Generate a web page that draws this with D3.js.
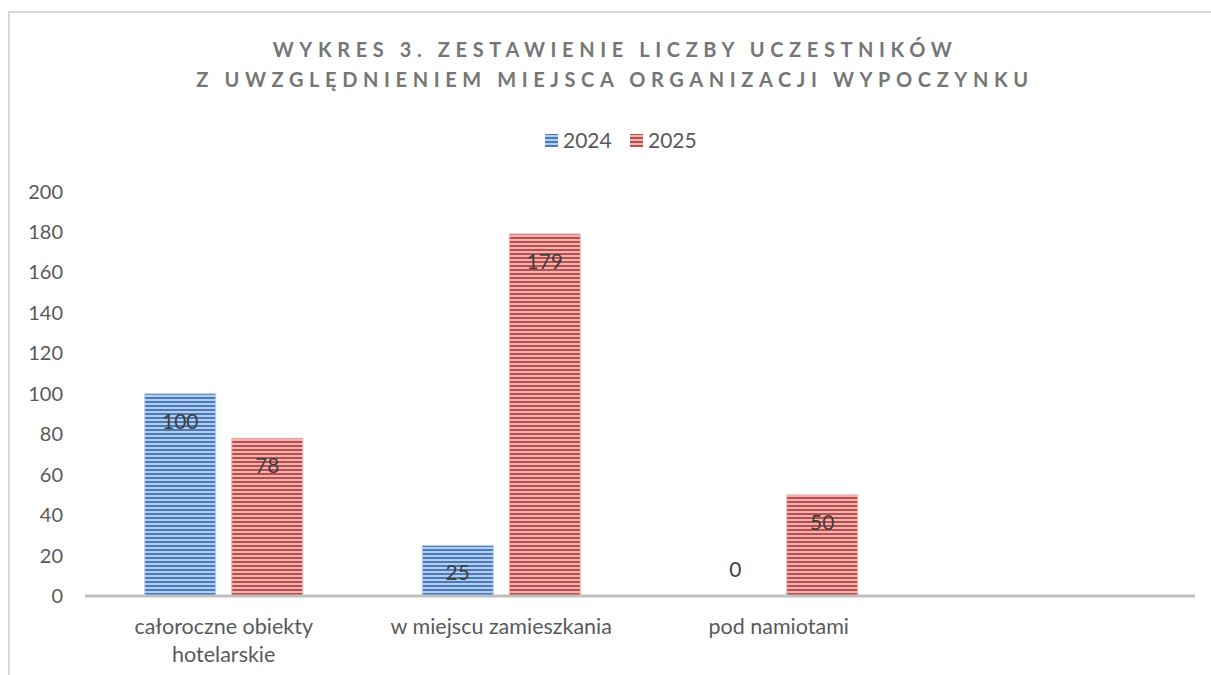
<!DOCTYPE html>
<html>
<head>
  <meta charset="utf-8">
  <script src="https://cdn.jsdelivr.net/npm/d3@7"></script>
  <style>
    body { margin: 0; background: #fff; }
    text { font-family: Lato, "Open Sans", sans-serif; }
  </style>
</head>
<body>
<script>
  // chart data
  var titleLines = ["WYKRES 3. ZESTAWIENIE LICZBY UCZESTNIKÓW", "Z UWZGLĘDNIENIEM MIEJSCA ORGANIZACJI WYPOCZYNKU"];
  var categories = ["całoroczne obiekty|hotelarskie", "w miejscu zamieszkania", "pod namiotami", ""];
  var seriesNames = ["2024", "2025"];
  var values2024 = [100, 25, 0, null];
  var values2025 = [78, 179, 50, null];
  var yTicks = [0, 20, 40, 60, 80, 100, 120, 140, 160, 180, 200];

  var width = 1211, height = 675;
  var colors = { "2024": ["#467bc0", "#b8cdea"], "2025": ["#c44a49", "#ecb8b7"] };

  var svg = d3.select("body").append("svg")
    .attr("width", width).attr("height", height);

  // striped patterns
  var defs = svg.append("defs");
  seriesNames.forEach(function (s) {
    var p = defs.append("pattern")
      .attr("id", "pat" + s)
      .attr("patternUnits", "userSpaceOnUse")
      .attr("width", 8).attr("height", 4);
    p.append("rect").attr("width", 8).attr("height", 4).attr("fill", colors[s][1]);
    p.append("rect").attr("y", 1).attr("width", 8).attr("height", 2).attr("fill", colors[s][0]);
  });

  // chart frame
  svg.append("path")
    .attr("d", "M9,680 V12 H1215")
    .attr("fill", "none").attr("stroke", "#d9d9d9").attr("stroke-width", 2);

  // title
  svg.selectAll(".title").data(titleLines).enter().append("text")
    .attr("class", "title")
    .attr("x", 615).attr("y", function (d, i) { return 57 + i * 30; })
    .attr("text-anchor", "middle")
    .style("font-size", "20px").style("font-weight", "bold")
    .style("letter-spacing", "5.6px")
    .attr("fill", "#767676")
    .text(function (d) { return d; });

  // legend
  var legend = svg.append("g").attr("transform", "translate(545,140)");
  var lg = legend.selectAll("g").data(seriesNames).enter().append("g")
    .attr("transform", function (d, i) { return "translate(" + i * 85 + ",0)"; });
  lg.append("rect").attr("x", 0).attr("y", -6).attr("width", 13).attr("height", 13)
    .attr("fill", function (d) { return "url(#pat" + d + ")"; });
  lg.append("text").attr("x", 18).attr("y", 8)
    .style("font-size", "21px").attr("fill", "#595959")
    .text(function (d) { return d; });

  // scales
  var x = d3.scaleBand().domain(d3.range(categories.length)).range([85, 1195]);
  var y = d3.scaleLinear().domain([0, 200]).range([596, 191.5]);
  var barW = 71, gap = 16;

  // y axis labels
  svg.selectAll(".ylab").data(yTicks).enter().append("text")
    .attr("x", 63).attr("y", function (d) { return y(d) + 7; })
    .attr("text-anchor", "end")
    .style("font-size", "20px").attr("fill", "#595959")
    .text(function (d) { return d; });

  // bars
  var series = [values2024, values2025];
  series.forEach(function (vals, si) {
    var s = seriesNames[si];
    var g = svg.append("g");
    vals.forEach(function (v, ci) {
      if (v === null) return;
      var cx = x(ci) + x.bandwidth() / 2;
      var bx = si === 0 ? cx - gap / 2 - barW : cx + gap / 2;
      if (v > 0) {
        g.append("rect")
          .attr("x", bx).attr("y", y(v))
          .attr("width", barW).attr("height", y(0) - y(v))
          .attr("fill", "url(#pat" + s + ")")
          .attr("stroke", colors[s][1]).attr("stroke-width", 1);
      }
      g.append("text")
        .attr("x", bx + barW / 2)
        .attr("y", v > 0 ? y(v) + 35 : y(0) - 19)
        .attr("text-anchor", "middle")
        .style("font-size", "21px").attr("fill", "#404040")
        .text(v);
    });
  });

  // x axis line
  svg.append("line")
    .attr("x1", 85).attr("x2", 1195).attr("y1", y(0)).attr("y2", y(0))
    .attr("stroke", "#bfbfbf").attr("stroke-width", 3);

  // category labels
  categories.forEach(function (c, i) {
    var lines = c.split("|");
    lines.forEach(function (l, li) {
      svg.append("text")
        .attr("x", x(i) + x.bandwidth() / 2)
        .attr("y", 634 + li * 28)
        .attr("text-anchor", "middle")
        .style("font-size", "21.5px").attr("fill", "#595959")
        .text(l);
    });
  });
</script>
</body>
</html>
